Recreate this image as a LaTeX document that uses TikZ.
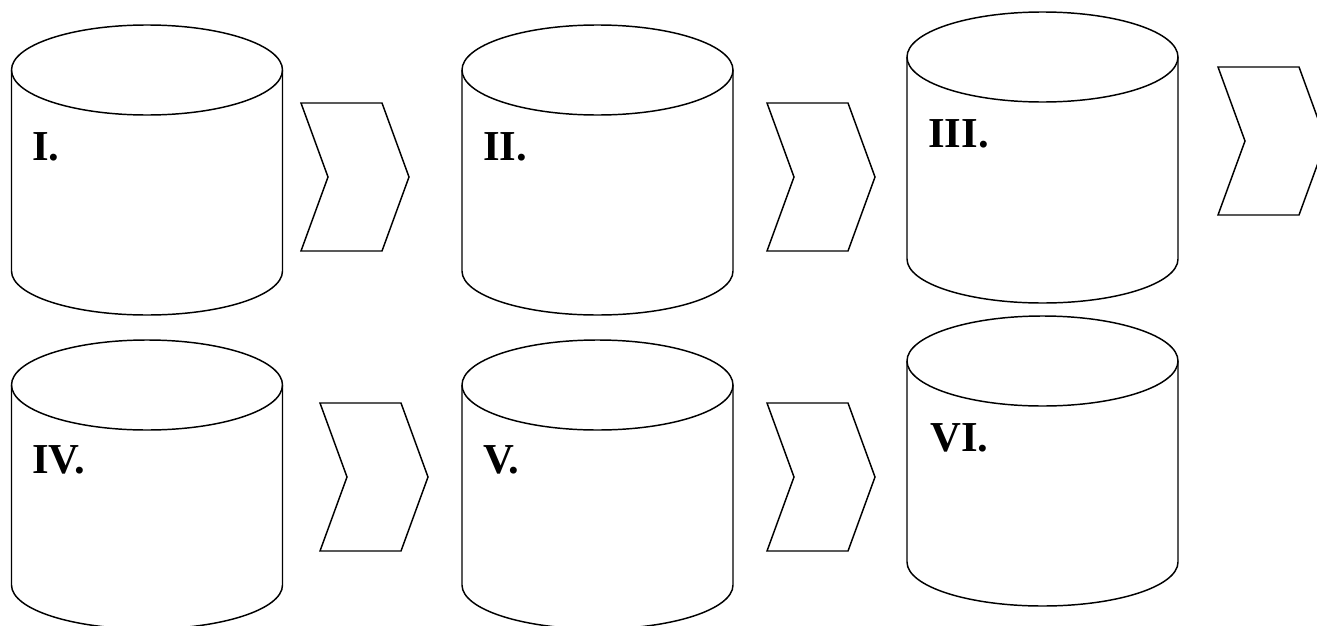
\documentclass[tikz,border=0pt]{standalone}
\usepackage{fontspec}
\setmainfont{Liberation Serif}
\usepackage{tikz}
\usetikzlibrary{calc}

% drum: centre x, y of the top ellipse, y where the sides end
\newcommand{\drum}[3]{%
  \draw[outline] (#1,#2) ellipse [x radius=135.5, y radius=45];
  \draw[outline] (#1-135.5,#2) -- (#1-135.5,#3)
    arc [start angle=180, end angle=360, x radius=135.5, y radius=44]
    -- (#1+135.5,#2);
}
% chevron: left x, top y
\newcommand{\chev}[2]{%
  \draw[outline] (#1,#2) -- (#1+81,#2) -- (#1+108,#2-74)
    -- (#1+81,#2-148) -- (#1,#2-148) -- (#1+27,#2-74) -- cycle;
}

\begin{document}
\begin{tikzpicture}[x=0.75pt,y=0.75pt,
    outline/.style={line width=1.1pt,line join=miter},
    lbl/.style={anchor=base west,inner sep=0pt,font=\fontsize{32}{38}\selectfont\bfseries}]

    \useasboundingbox (0,0) rectangle (1317,-625);

    % Upper row
    \drum{147}{-70}{-271}
    \drum{597.5}{-70}{-271}
    \drum{1042.5}{-57}{-259}
    \chev{301}{-103}
    \chev{767}{-103}
    \chev{1218}{-67}

    % Lower row
    \drum{147}{-385}{-585}
    \drum{597.5}{-385}{-585}
    \drum{1042.5}{-361}{-562}
    \chev{320}{-403}
    \chev{767}{-403}

    % Labels
    \node[lbl] (one) at (32,-160) {I.};
    \node[lbl] (two) at (483,-160) {II.};
    \node[lbl] (three) at (928,-147) {III.};
    \node[lbl] (four) at (32,-473) {IV.};
    \node[lbl] (five) at (483,-473) {V.};
    \node[lbl] (six) at (930,-451) {VI.};

\end{tikzpicture}
\end{document}
